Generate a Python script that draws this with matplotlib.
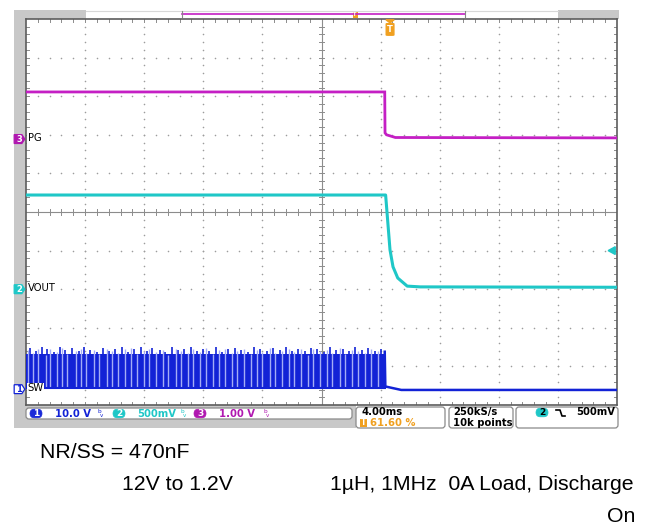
import matplotlib
matplotlib.use('Agg')
import matplotlib.pyplot as plt
from matplotlib.patches import Rectangle, FancyBboxPatch, Polygon
import numpy as np

# ---------------- data (screen divisions: x = time div @ 4.00 ms/div, y = vertical div) -------------
pg_t = [0.0, 6.07, 6.075, 6.10, 6.25, 10.0]
pg_v = [8.11, 8.11, 7.05, 7.00, 6.93, 6.92]

vout_t = [0.0, 6.085, 6.108, 6.159, 6.21, 6.29, 6.45, 6.67, 10.0]
vout_v = [5.44, 5.44, 5.00, 4.02, 3.58, 3.29, 3.08, 3.06, 3.05]

sw_burst_end = 6.07
sw_low_before = 0.43
sw_band_top = 1.33
sw_after_t = [6.07, 6.08, 6.20, 6.35, 10.0]
sw_after_v = [1.38, 0.48, 0.44, 0.39, 0.39]
sw_streak_t = [0.03, 0.12, 0.21, 0.33, 0.40, 0.52, 0.61, 0.70, 0.84, 0.93, 1.02, 1.15, 1.24,
               1.37, 1.46, 1.55, 1.68, 1.77, 1.88, 1.99, 2.08, 2.20, 2.31, 2.40, 2.53, 2.62,
               2.74, 2.83, 2.95, 3.04, 3.16, 3.27, 3.36, 3.48, 3.57, 3.69, 3.80, 3.91, 4.00,
               4.13, 4.22, 4.34, 4.45, 4.54, 4.66, 4.77, 4.86, 4.98, 5.09, 5.18, 5.31, 5.40,
               5.52, 5.61, 5.73, 5.84, 5.95]
sw_streak_top = [1.42, 1.35, 1.46, 1.30, 1.44, 1.38, 1.47, 1.33, 1.41, 1.45, 1.36, 1.43, 1.31,
                 1.46, 1.39, 1.34, 1.44, 1.47, 1.32, 1.40, 1.45, 1.37, 1.43, 1.30, 1.46, 1.41,
                 1.35, 1.44, 1.38, 1.47, 1.33, 1.42, 1.45, 1.36, 1.40, 1.46, 1.31, 1.43, 1.38,
                 1.47, 1.34, 1.41, 1.45, 1.37, 1.44, 1.30, 1.46, 1.39, 1.42, 1.35, 1.47, 1.33,
                 1.43, 1.40, 1.36, 1.45, 1.41]
sw_spike_t = [0.07, 0.17, 0.27, 0.36, 0.47, 0.57, 0.66, 0.77, 0.89, 0.98, 1.09, 1.20, 1.30,
              1.41, 1.51, 1.62, 1.72, 1.83, 1.94, 2.04, 2.14, 2.26, 2.36, 2.47, 2.58, 2.68,
              2.79, 2.89, 3.00, 3.10, 3.22, 3.32, 3.42, 3.53, 3.63, 3.75, 3.86, 3.96, 4.07,
              4.18, 4.29, 4.40, 4.50, 4.61, 4.72, 4.82, 4.92, 5.04, 5.14, 5.25, 5.36, 5.47,
              5.57, 5.68, 5.79, 5.90, 6.01]
sw_spike_top = [1.48, 1.40, 1.50, 1.44, 1.38, 1.49, 1.42, 1.47, 1.39, 1.50, 1.43, 1.37, 1.48,
                1.41, 1.46, 1.50, 1.38, 1.44, 1.49, 1.40, 1.47, 1.43, 1.37, 1.50, 1.42, 1.45,
                1.49, 1.39, 1.46, 1.41, 1.50, 1.38, 1.44, 1.48, 1.42, 1.37, 1.49, 1.45, 1.40,
                1.47, 1.43, 1.50, 1.39, 1.46, 1.41, 1.48, 1.44, 1.38, 1.50, 1.42, 1.46, 1.40,
                1.49, 1.43, 1.47, 1.39, 1.45]

ch_ground = {'1': 0.41, '2': 3.00, '3': 6.89}
ch_label = {'1': 'SW', '2': 'VOUT', '3': 'PG'}
trigger_pos = 6.16
trigger_level = 4.00

scale_texts = ['10.0 V', '500mV', '1.00 V']
timebase = '4.00ms'
trig_pct = '61.60 %'
sample_rate = '250kS/s'
rec_len = '10k points'
trig_text = '500mV'

notes = ['NR/SS = 470nF', '12V to 1.2V', '1µH, 1MHz  0A Load, Discharge', 'On']

C1 = '#1222d6'
C1L = '#a4acf6'
C2 = '#1fc7c7'
C3 = '#c41fc4'
ORANGE = '#f0a020'
GRAY = '#c8c8c8'

W, H = 648, 527
fig = plt.figure(figsize=(W / 100, H / 100), dpi=100)
fig.patch.set_facecolor('white')

# ---------------- background / decorations in pixel coords ----------------
bg = fig.add_axes([0, 0, 1, 1], zorder=0)
bg.set_xlim(0, W); bg.set_ylim(H, 0); bg.axis('off')
bg.add_patch(Rectangle((14, 10), 12, 418, color=GRAY, lw=0))
bg.add_patch(Rectangle((14, 10), 72, 9, color=GRAY, lw=0))
bg.add_patch(Rectangle((558, 10), 61, 9, color=GRAY, lw=0))
bg.add_patch(Rectangle((14, 405), 342, 23, color=GRAY, lw=0))
bg.plot([86, 558], [10.5, 10.5], color='#d8d8d8', lw=0.8)
# record overview bracket
bg.plot([182, 465], [14, 14], color=C3, lw=1.2)
bg.plot([182, 182], [11, 17], color='#888888', lw=0.8)
bg.plot([465, 465], [11, 17], color='#888888', lw=0.8)
bg.add_patch(Rectangle((352.5, 11), 5, 7, color=ORANGE, lw=0))
bg.text(355, 14.8, 'T', color='white', fontsize=3.5, ha='center', va='center', fontweight='bold')

# status boxes
def box(x, y, w, h):
    bg.add_patch(FancyBboxPatch((x, y), w, h, boxstyle='round,pad=0,rounding_size=3',
                                fc='white', ec='#8a8a8a', lw=0.9))

box(26, 408, 326, 11)
box(356, 407, 89, 21)
box(449, 407, 64, 21)
box(516, 407, 102, 21)

def badge(cx, cy, num, fc, tc='white'):
    bg.add_patch(FancyBboxPatch((cx - 6, cy - 4.3), 12, 8.6,
                                boxstyle='round,pad=0,rounding_size=4.3', fc=fc, ec=fc, lw=0.5))
    bg.text(cx, cy + 0.3, num, color=tc, fontsize=6.5, ha='center', va='center', fontweight='bold')

sfont = dict(fontsize=7.2, fontweight='bold', family='DejaVu Sans', va='center')
badge(36, 413.5, '1', '#1a2ad8')
bg.text(55, 413.7, scale_texts[0], color=C1, **sfont)
badge(119, 413.5, '2', C2)
bg.text(137, 413.7, scale_texts[1], color=C2, **sfont)
badge(200, 413.5, '3', '#b018b0')
bg.text(219, 413.7, scale_texts[2], color='#b018b0', **sfont)
for xx, col in [(99, C1), (182, C2), (265, '#b018b0')]:
    bg.text(xx, 411.5, 'b', color=col, fontsize=4.2, ha='center', va='center')
    bg.text(xx + 2.5, 415.5, 'v', color=col, fontsize=4.0, ha='center', va='center')

bg.text(361, 412.3, timebase, color='black', **sfont)
bg.add_patch(Rectangle((360, 418.5), 7, 8, color=ORANGE, lw=0))
bg.text(363.5, 422.7, 'T', color='white', fontsize=5.5, ha='center', va='center', fontweight='bold')
bg.text(370, 422.7, trig_pct, color=ORANGE, **sfont)
bg.text(453, 412.3, sample_rate, color='black', **sfont)
bg.text(453, 422.7, rec_len, color='black', **sfont)
badge(542, 412.5, '2', C2, tc='black')
bg.plot([556, 560, 562, 565], [410, 410, 416, 416], color='black', lw=1.2)
bg.text(615, 412.3, trig_text, color='black', ha='right', **sfont)

# notes below
nfont = dict(fontsize=15.3, family='Liberation Sans', color='black', va='center')
bg.text(40, 452, notes[0], ha='left', **nfont)
bg.text(122, 485, notes[1], ha='left', **nfont)
bg.text(330, 485, notes[2], ha='left', **nfont)
bg.text(635, 516, notes[3], ha='right', **nfont)

# ---------------- scope graticule ----------------
ax = fig.add_axes([26 / W, 1 - 405 / H, 591 / W, 386 / H], zorder=2)
ax.set_facecolor('white')
ax.set_xlim(0, 10); ax.set_ylim(0, 10)
ax.set_xticks([]); ax.set_yticks([])
for s in ax.spines.values():
    s.set_color('#5c5c5c'); s.set_linewidth(1.2)

minor = np.arange(1, 50) * 0.2
majors = [1, 2, 3, 4, 6, 7, 8, 9]
dot_kw = dict(color='#9c9c9c', s=1.3, lw=0, zorder=1)
for m in majors:
    ax.scatter(np.full_like(minor, m), minor, **dot_kw)
    ax.scatter(minor, np.full_like(minor, m), **dot_kw)
ax.axhline(5, color='#8c8c8c', lw=0.8, zorder=1)
ax.axvline(5, color='#8c8c8c', lw=0.8, zorder=1)
tx, ty = 0.05, 0.078
for p in minor:
    ax.plot([p, p], [5 - ty, 5 + ty], color='#8c8c8c', lw=0.7, zorder=1)
    ax.plot([5 - tx, 5 + tx], [p, p], color='#8c8c8c', lw=0.7, zorder=1)
    ax.plot([p, p], [10, 10 - ty], color='#8c8c8c', lw=0.7, zorder=1)
    ax.plot([p, p], [0, ty], color='#8c8c8c', lw=0.7, zorder=1)
    ax.plot([0, tx], [p, p], color='#8c8c8c', lw=0.7, zorder=1)
    ax.plot([10, 10 - tx], [p, p], color='#8c8c8c', lw=0.7, zorder=1)

# ---------------- traces ----------------
ax.plot(pg_t, pg_v, color=C3, lw=2.0, zorder=4, solid_joinstyle='miter')
ax.plot(vout_t, vout_v, color=C2, lw=2.2, zorder=4)
ax.fill_between([0, sw_burst_end], [sw_low_before, sw_low_before], [sw_band_top, sw_band_top],
                color=C1, lw=0, zorder=3)
ax.vlines(sw_spike_t, sw_low_before, sw_spike_top, color=C1, lw=1.2, zorder=3)
ax.vlines(sw_streak_t, sw_low_before + 0.04, sw_streak_top, color=C1L, lw=1.0, zorder=3)
ax.plot([0, sw_burst_end], [sw_low_before, sw_low_before], color=C1, lw=1.5, zorder=3)
ax.plot(sw_after_t, sw_after_v, color=C1, lw=1.8, zorder=3)

# trigger position marker
tp = trigger_pos
ax.add_patch(Polygon([[tp - 0.07, 9.98], [tp + 0.07, 9.98], [tp, 9.9]], closed=True,
                     color=ORANGE, clip_on=False, zorder=6))
ax.add_patch(FancyBboxPatch((tp - 0.065, 9.58), 0.13, 0.3,
                            boxstyle='round,pad=0,rounding_size=0.03', fc=ORANGE, ec=ORANGE,
                            clip_on=False, zorder=6, mutation_aspect=0.3))
ax.text(tp, 9.73, 'T', color='white', fontsize=6, ha='center', va='center',
        fontweight='bold', zorder=7)
# trigger level marker
ax.add_patch(Polygon([[9.85, trigger_level], [9.97, trigger_level + 0.1],
                      [9.97, trigger_level - 0.1]], closed=True, color=C2, zorder=6))

# channel ground markers
for ch, col, fc in [('1', C1, 'white'), ('2', C2, C2), ('3', '#b018b0', '#b018b0')]:
    g = ch_ground[ch]
    pts = [[-0.20, g - 0.115], [-0.07, g - 0.115], [-0.02, g], [-0.07, g + 0.115], [-0.20, g + 0.115]]
    ax.add_patch(Polygon(pts, closed=True, fc=fc, ec=col, lw=0.9, clip_on=False, zorder=6))
    ax.text(-0.115, g, ch, color=(col if fc == 'white' else 'white'), fontsize=6,
            fontweight='bold', ha='center', va='center', clip_on=False, zorder=7)
    ax.text(0.03, g + 0.02, ch_label[ch], color='black', fontsize=7.2, ha='left',
            va='center', zorder=7,
            bbox=dict(boxstyle='square,pad=0.05', fc='white', ec='none'))

fig.savefig('out.png', dpi=100, facecolor='white')
